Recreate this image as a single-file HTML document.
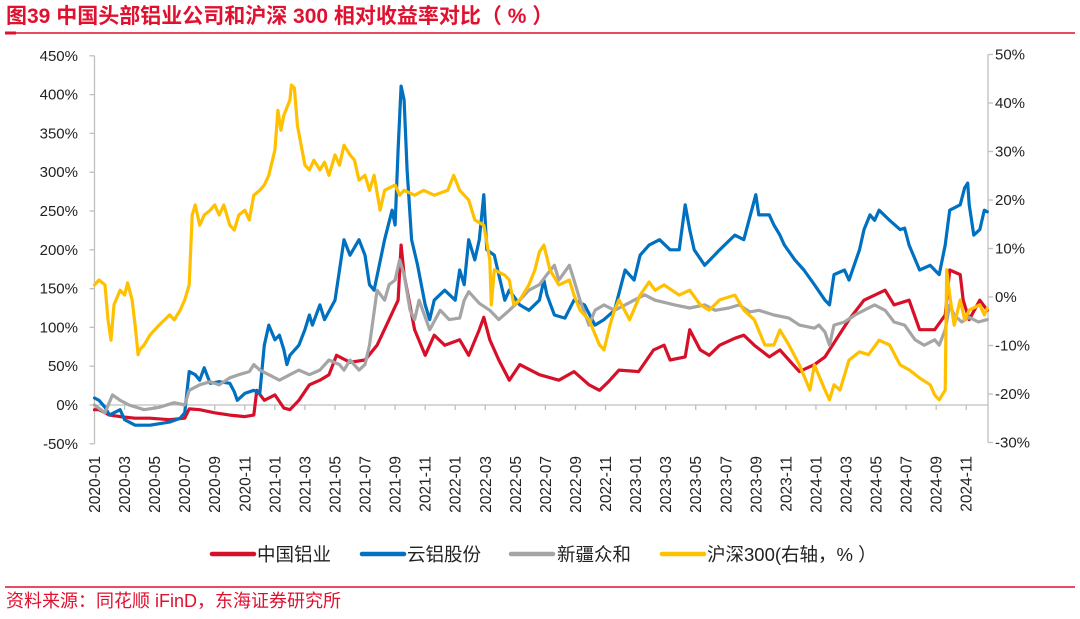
<!DOCTYPE html>
<html><head><meta charset="utf-8"><style>
body{margin:0;background:#fff;width:1080px;height:614px;overflow:hidden;font-family:"Liberation Sans","Noto Sans CJK SC",sans-serif;}
svg text{font-family:"Liberation Sans","Noto Sans CJK SC",sans-serif;}
</style></head><body>
<svg id="chart" width="1080" height="614" viewBox="0 0 1080 614" xmlns="http://www.w3.org/2000/svg">
<text x="6" y="23" font-size="21" font-weight="bold" fill="#E0102F">图39  中国头部铝业公司和沪深 300 相对收益率对比（ % ）</text>
<line x1="5" y1="33" x2="1075" y2="33" stroke="#E0102F" stroke-width="1.5"/>
<line x1="5" y1="33" x2="16" y2="33" stroke="#E0102F" stroke-width="3"/>
<g id="axes"></g>
<g id="series"></g>
<g id="legend">
<line x1="212" y1="554" x2="254" y2="554" stroke="#D7102A" stroke-width="4.5" stroke-linecap="round"/>
<text x="257" y="561" font-size="18.5" fill="#222">中国铝业</text>
<line x1="362" y1="554" x2="404" y2="554" stroke="#0070C0" stroke-width="4.5" stroke-linecap="round"/>
<text x="407" y="561" font-size="18.5" fill="#222">云铝股份</text>
<line x1="511" y1="554" x2="553" y2="554" stroke="#A5A5A5" stroke-width="4.5" stroke-linecap="round"/>
<text x="557" y="561" font-size="18.5" fill="#222">新疆众和</text>
<line x1="662" y1="554" x2="704" y2="554" stroke="#FFC000" stroke-width="4.5" stroke-linecap="round"/>
<text x="707" y="561" font-size="18.5" fill="#222">沪深300(右轴，% ）</text>
</g>
<line x1="5" y1="587" x2="1075" y2="587" stroke="#E0102F" stroke-width="1.5"/>
<text x="6" y="607" font-size="18" fill="#E0102F">资料来源：同花顺 iFinD，东海证券研究所</text>
</svg>
<script>
// months since 2020-01 (fractional) and values (%)
const chalcoT = [0,0.3,1.0,1.7,2.7,3.7,5.0,6.0,6.3,7.0,8.0,9.0,10.0,10.6,10.8,11.3,12.0,12.6,13.0,13.6,14.3,15.0,15.6,16.1,17.0,18.0,18.8,19.6,20.2,20.4,20.6,21.3,22.0,22.6,23.3,24.3,24.9,25.6,25.9,26.3,26.9,27.6,28.3,29.6,30.9,31.9,32.9,33.6,34.2,34.9,36.2,37.2,37.9,38.3,39.3,39.6,40.3,40.9,41.6,42.6,43.2,43.9,44.9,45.6,46.2,46.9,47.9,48.6,49.2,50.2,51.2,52.6,53.2,54.2,54.9,55.9,56.6,56.9,57.6,57.8,58.2,58.9,59.4];
const chalcoV = [-6,-6,-13,-15,-17,-17,-19,-17,-5,-6,-10,-13,-15,-13,19,6,13,-4,-6,6,26,32,39,64,55,58,77,110,135,206,168,97,64,90,77,84,64,97,113,84,58,32,52,39,32,43,26,19,30,45,43,71,77,58,62,97,71,64,77,86,90,77,62,71,58,43,52,62,80,110,135,148,129,135,97,97,116,174,168,135,110,135,122];
const yunlvT = [0,0.3,0.7,1.0,1.7,2.0,2.7,3.7,5.0,5.7,6.0,6.3,6.7,7.0,7.3,7.7,8.3,9.0,9.3,9.5,10.0,10.6,11.0,11.3,11.6,12.0,12.3,12.6,12.8,13.0,13.6,14.0,14.3,14.5,15.0,15.3,16.0,16.3,16.6,17.0,17.6,18.0,18.3,18.6,19.3,19.8,20.0,20.2,20.4,20.6,20.8,21.1,21.5,22.0,22.3,22.6,23.3,24.0,24.3,24.6,24.9,25.3,25.6,25.9,26.1,26.6,26.9,27.3,27.6,28.3,28.9,29.6,29.9,30.1,30.6,31.3,31.9,32.6,33.3,33.9,34.6,35.3,35.9,36.3,36.9,37.6,38.3,38.9,39.3,39.6,39.9,40.6,41.6,42.6,43.2,44.0,44.2,44.9,45.2,45.6,45.9,46.6,47.2,47.9,48.6,48.9,49.2,49.9,50.2,50.9,51.2,51.6,51.9,52.2,52.9,53.6,53.9,54.2,54.9,55.6,55.9,56.2,56.6,56.9,57.6,57.9,58.1,58.2,58.5,58.9,59.2,59.4];
const yunlvV = [9,6,-3,-13,-6,-19,-26,-26,-22,-17,-10,43,39,32,48,28,30,28,17,6,15,19,15,77,103,84,90,71,52,64,77,97,116,103,129,110,135,174,213,193,213,193,155,148,213,251,232,329,411,393,303,213,180,129,110,135,148,135,174,155,213,187,213,271,200,193,168,135,148,129,122,135,161,142,116,112,135,129,103,110,122,174,161,193,206,213,200,200,258,226,200,180,200,219,213,271,245,245,232,219,206,187,174,155,135,129,168,174,161,200,226,245,238,251,238,226,228,206,174,180,174,168,206,251,258,280,286,258,219,226,251,249];
const xjT = [0,0.7,1.2,1.7,2.3,3.3,4.3,5.3,6.0,6.3,7.0,7.7,8.3,9.0,9.6,10.3,10.6,11.0,11.6,12.3,13.0,13.6,14.3,15.0,15.6,16.3,16.6,17.0,17.6,18.0,18.3,18.8,19.3,19.6,20.0,20.3,20.6,21.0,21.3,21.6,22.3,23.0,23.6,24.3,24.6,24.9,25.6,26.3,26.9,27.6,28.3,28.9,29.6,30.1,30.6,30.9,31.6,31.9,32.3,32.9,33.3,33.9,34.6,35.3,35.9,36.6,37.3,38.6,39.6,40.6,41.3,42.2,42.9,43.6,44.2,45.2,46.2,46.9,47.9,48.2,48.6,48.9,49.2,49.9,50.6,51.2,51.9,52.6,53.2,53.9,54.6,55.2,55.9,56.2,56.6,56.9,57.2,57.7,58.2,58.8,59.4];
const xjV = [0,-10,13,6,0,-6,-3,3,0,19,26,30,26,35,39,43,52,45,39,32,39,45,39,45,58,52,45,58,45,52,77,148,135,155,161,187,168,122,110,135,97,122,110,112,135,146,131,122,110,122,135,148,155,168,180,161,180,161,135,103,122,129,122,129,135,142,135,129,125,129,122,125,129,120,122,116,112,103,99,103,94,77,103,107,116,122,129,122,107,103,84,77,84,77,97,129,116,107,113,107,110];
const csiT = [0,0.3,0.7,0.9,1.1,1.3,1.7,2.0,2.2,2.5,2.7,2.9,3.0,3.3,3.7,4.3,5.0,5.3,5.7,6.0,6.3,6.5,6.7,7.0,7.3,7.7,8.0,8.3,8.6,9.0,9.3,9.6,10.0,10.3,10.6,11.0,11.3,11.6,12.0,12.2,12.4,12.6,13.0,13.1,13.3,13.5,14.0,14.3,14.6,15.0,15.3,15.6,16.0,16.3,16.6,17.0,17.3,17.6,18.0,18.3,18.6,19.0,19.3,20.0,20.3,20.6,21.3,21.9,22.6,23.5,23.9,24.3,24.9,25.3,25.9,26.3,26.4,26.6,27.3,27.6,27.9,28.3,28.9,29.3,29.6,29.9,30.3,30.9,31.6,31.9,32.3,32.9,33.6,33.9,34.3,34.6,34.9,35.6,36.3,36.9,37.3,37.9,38.9,39.6,40.3,40.9,41.6,42.6,43.2,43.9,44.6,45.2,45.6,46.2,46.9,47.6,47.9,48.6,48.9,49.2,49.6,50.2,50.9,51.5,52.2,52.9,53.6,54.2,54.9,55.6,55.9,56.2,56.6,56.7,56.9,57.2,57.6,57.9,58.2,58.9,59.2,59.4];
const csiV = [2.5,3.5,2.5,-4.7,-8.9,-1.6,1.4,0.4,2.9,-0.6,-5.8,-11.9,-10.9,-9.9,-7.8,-5.8,-3.7,-4.7,-2.7,-0.6,2.5,16.9,19.0,14.8,16.9,17.9,19.0,16.9,19.0,14.8,13.8,16.9,17.9,15.9,21.0,22.0,23.1,25.1,30.3,38.5,34.4,37.5,40.6,43.7,43.1,35.4,27.2,26.2,28.2,26.2,27.8,25.1,29.3,27.2,31.3,29.3,28.2,24.1,25.1,22.0,25.1,17.9,22.0,23.1,21.0,22.0,21.0,22.0,21.0,22.0,25.1,22.0,20.0,15.9,14.8,7.6,-1.6,5.6,4.5,3.5,-1.6,-0.6,2.5,5.6,9.3,10.7,5.6,2.5,3.5,0.4,-2.7,-4.7,-9.9,-10.9,-5.8,-2.7,-0.6,-4.7,0.4,3.1,1.4,2.5,0.4,1.4,-1.6,-2.7,-0.6,0.4,-2.7,-4.7,-9.9,-9.9,-6.8,-9.9,-14.0,-19.2,-14.0,-19.2,-21.2,-18.1,-19.2,-13.0,-11.3,-11.9,-8.9,-9.9,-14.0,-15.0,-16.7,-18.1,-20.2,-21.2,-19.2,5.6,0.4,-5.8,-0.6,-4.7,-2.7,-1.6,-3.7,-2.3];
const leftTicks = [450,400,350,300,250,200,150,100,50,0,-50];
const rightTicks = [50,40,30,20,10,0,-10,-20,-30];
const xLabels = ["2020-01","2020-03","2020-05","2020-07","2020-09","2020-11","2021-01","2021-03","2021-05","2021-07","2021-09","2021-11","2022-01","2022-03","2022-05","2022-07","2022-09","2022-11","2023-01","2023-03","2023-05","2023-07","2023-09","2023-11","2024-01","2024-03","2024-05","2024-07","2024-09","2024-11"];

const NS = "http://www.w3.org/2000/svg";
const X0 = 94.5, XR = 988, MONTHPX = 15.03;
const xs = m => X0 + m * MONTHPX;
const yL = v => 405 - v * 0.776;
const yR = v => 297 - v * 4.85;
function mk(tag, attrs, parent){const e=document.createElementNS(NS,tag);for(const k in attrs)e.setAttribute(k,attrs[k]);parent.appendChild(e);return e;}
const axes = document.getElementById('axes');
const ser = document.getElementById('series');
const AX = '#BFBFBF';
let la = mk('line',{x1:X0,y1:yL(450),x2:X0,y2:yL(-50),stroke:AX,'stroke-width':1.3},axes);


leftTicks.forEach(v=>{
  mk('line',{x1:X0-5,y1:yL(v),x2:X0,y2:yL(v),stroke:AX,'stroke-width':1.3},axes);
  const t=mk('text',{x:78,y:yL(v)+5,'font-size':15,fill:'#222','text-anchor':'end'},axes);
  t.textContent=v+'%';
  
  
});
let ra = mk('line',{x1:XR,y1:yR(50),x2:XR,y2:yR(-30),stroke:AX,'stroke-width':1.3},axes);


rightTicks.forEach(v=>{
  mk('line',{x1:XR,y1:yR(v),x2:XR+5,y2:yR(v),stroke:AX,'stroke-width':1.3},axes);
  const t=mk('text',{x:995,y:yR(v)+5,'font-size':15,fill:'#222'},axes);
  t.textContent=v+'%';
  
  
});
let xa = mk('line',{x1:X0,y1:yL(0),x2:XR,y2:yL(0),stroke:AX,'stroke-width':1.3},axes);


xLabels.forEach((lab,i)=>{
  const x=xs(i*2);
  mk('line',{x1:x,y1:yL(0),x2:x,y2:yL(0)+5,stroke:AX,'stroke-width':1.3},axes);
  const t=mk('text',{x:0,y:0,'font-size':15.5,fill:'#222','text-anchor':'end',transform:`translate(${x+5.5},456) rotate(-90)`},axes);
  t.textContent=lab;
  
  
});
function line(T,V,ysc,color,name){
  const d=T.map((m,i)=>(i?'L':'M')+xs(m).toFixed(1)+','+ysc(V[i]).toFixed(1)).join('');
  const p=mk('path',{d:d,fill:'none',stroke:color,'stroke-width':3.2,'stroke-linejoin':'round','stroke-linecap':'round'},ser);
  
  
}
line(chalcoT,chalcoV,yL,'#D7102A','chalco-line');
line(yunlvT,yunlvV,yL,'#0070C0','yunlv-line');
line(xjT,xjV,yL,'#A5A5A5','xinjiang-zhonghe-line');
line(csiT,csiV,yR,'#FFC000','csi300-line');
</script>
</body></html>
